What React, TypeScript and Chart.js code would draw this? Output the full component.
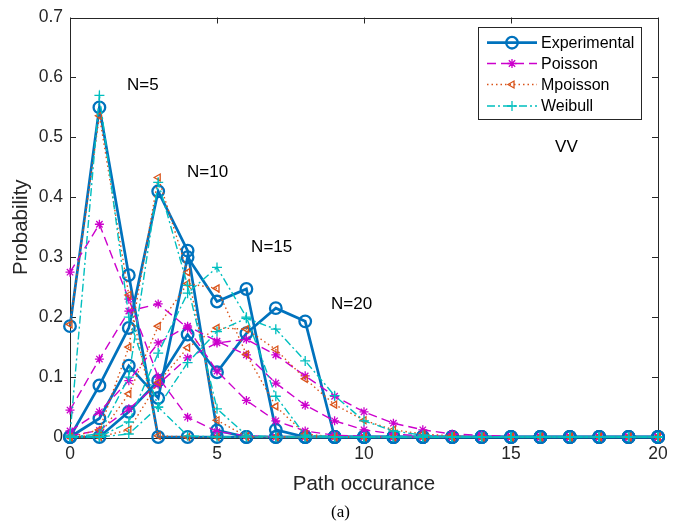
import React, { useEffect, useRef } from "react";
import { Chart, registerables } from "chart.js";

Chart.register(...registerables);

const xs = [0, 1, 2, 3, 4, 5, 6, 7, 8, 9, 10, 11, 12, 13, 14, 15, 16, 17, 18, 19, 20];

// Experimental
const expN5 = [0.185, 0.55, 0.27, 0, 0, 0, 0, 0, 0, 0, 0, 0, 0, 0, 0, 0, 0, 0, 0, 0, 0];
const expN10 = [0, 0.086, 0.182, 0.41, 0.311, 0.011, 0, 0, 0, 0, 0, 0, 0, 0, 0, 0, 0, 0, 0, 0, 0];
const expN15 = [0, 0.031, 0.119, 0.065, 0.3, 0.226, 0.247, 0.012, 0, 0, 0, 0, 0, 0, 0, 0, 0, 0, 0, 0, 0];
const expN20 = [0, 0, 0.042, 0.094, 0.171, 0.108, 0.173, 0.215, 0.193, 0, 0, 0, 0, 0, 0, 0, 0, 0, 0, 0, 0];

// Poisson
const poiN5 = [0.275, 0.355, 0.23, 0.1, 0.033, 0.009, 0.002, 0, 0, 0, 0, 0, 0, 0, 0, 0, 0, 0, 0, 0, 0];
const poiN10 = [0.045, 0.13, 0.21, 0.222, 0.182, 0.11, 0.061, 0.027, 0.01, 0.003, 0.001, 0, 0, 0, 0, 0, 0, 0, 0, 0, 0];
const poiN15 = [0.01, 0.042, 0.094, 0.157, 0.185, 0.16, 0.137, 0.09, 0.053, 0.027, 0.012, 0.005, 0.002, 0, 0, 0, 0, 0, 0, 0, 0];
const poiN20 = [0.002, 0.011, 0.047, 0.088, 0.132, 0.157, 0.163, 0.137, 0.102, 0.068, 0.042, 0.023, 0.012, 0.005, 0.003, 0.001, 0, 0, 0, 0, 0];

// Mpoisson
const mpoN5 = [0.188, 0.536, 0.237, 0.002, 0, 0, 0, 0, 0, 0, 0, 0, 0, 0, 0, 0, 0, 0, 0, 0, 0];
const mpoN10 = [0, 0.012, 0.15, 0.433, 0.275, 0.028, 0.001, 0, 0, 0, 0, 0, 0, 0, 0, 0, 0, 0, 0, 0, 0];
const mpoN15 = [0, 0.003, 0.072, 0.185, 0.256, 0.248, 0.138, 0.051, 0.005, 0, 0, 0, 0, 0, 0, 0, 0, 0, 0, 0, 0];
const mpoN20 = [0, 0, 0.012, 0.091, 0.149, 0.182, 0.18, 0.146, 0.097, 0.054, 0.028, 0.012, 0.005, 0.002, 0, 0, 0, 0, 0, 0, 0];

// Weibull
const weiN5 = [0.003, 0.57, 0.2, 0.05, 0.002, 0, 0, 0, 0, 0, 0, 0, 0, 0, 0, 0, 0, 0, 0, 0, 0];
const weiN10 = [0, 0.005, 0.1, 0.425, 0.253, 0.047, 0.003, 0, 0, 0, 0, 0, 0, 0, 0, 0, 0, 0, 0, 0, 0];
const weiN15 = [0, 0, 0.025, 0.14, 0.24, 0.283, 0.2, 0.068, 0.003, 0, 0, 0, 0, 0, 0, 0, 0, 0, 0, 0, 0];
const weiN20 = [0, 0, 0.005, 0.05, 0.124, 0.176, 0.198, 0.18, 0.127, 0.069, 0.027, 0.01, 0.003, 0, 0, 0, 0, 0, 0, 0, 0];

const seriesNames = ["Experimental", "Poisson", "Mpoisson", "Weibull"];
const xTicks = [0, 5, 10, 15, 20];
const yTicks = [0, 0.1, 0.2, 0.3, 0.4, 0.5, 0.6, 0.7];
const annotations = [
  { text: "N=5", x: 1.94, y: 0.587 },
  { text: "N=10", x: 3.98, y: 0.441 },
  { text: "N=15", x: 6.16, y: 0.316 },
  { text: "N=20", x: 8.88, y: 0.222 },
  { text: "VV", x: 16.5, y: 0.484 },
];

const AX = "#262626";
const FONT = "'Liberation Sans', Arial, sans-serif";
const C_EXP = "#0072BD";
const C_POI = "#CC00CC";
const C_MPO = "#D95319";
const C_WEI = "#00BFBF";

const styles: any = {
  Experimental: { color: C_EXP, width: 2.7, dash: [], point: "circle", radius: 5.8, pw: 2.3, rot: 0, order: 4 },
  Poisson: { color: C_POI, width: 1.4, dash: [9, 5], point: "star", radius: 4.5, pw: 1.3, rot: 0, order: 3 },
  Mpoisson: { color: C_MPO, width: 1.4, dash: [1.5, 3], point: "triangle", radius: 4, pw: 1.3, rot: -90, order: 2 },
  Weibull: { color: C_WEI, width: 1.4, dash: [8, 3, 2, 3], point: "cross", radius: 5, pw: 1.3, rot: 0, order: 1 },
};

function makeDs(name: string, vals: number[]) {
  const s = styles[name];
  return {
    label: name,
    data: xs.map((x, i) => ({ x, y: vals[i] })),
    borderColor: s.color,
    borderWidth: s.width,
    borderDash: s.dash,
    pointStyle: s.point,
    pointRadius: s.radius,
    pointBorderWidth: s.pw,
    pointBorderColor: s.color,
    pointBackgroundColor: "rgba(0,0,0,0)",
    pointRotation: s.rot,
    tension: 0,
    clip: false,
    order: s.order,
  };
}

function drawMarker(ctx: CanvasRenderingContext2D, style: string, x: number, y: number, r: number) {
  ctx.beginPath();
  if (style === "circle") {
    ctx.arc(x, y, r, 0, Math.PI * 2);
    ctx.stroke();
  } else if (style === "cross") {
    ctx.moveTo(x - r, y); ctx.lineTo(x + r, y);
    ctx.moveTo(x, y - r); ctx.lineTo(x, y + r);
    ctx.stroke();
  } else if (style === "star") {
    ctx.moveTo(x - r, y); ctx.lineTo(x + r, y);
    ctx.moveTo(x, y - r); ctx.lineTo(x, y + r);
    const d = r * 0.7071;
    ctx.moveTo(x - d, y - d); ctx.lineTo(x + d, y + d);
    ctx.moveTo(x - d, y + d); ctx.lineTo(x + d, y - d);
    ctx.stroke();
  } else if (style === "triangle") {
    ctx.moveTo(x - r, y);
    ctx.lineTo(x + r * 0.5, y - r * 0.866);
    ctx.lineTo(x + r * 0.5, y + r * 0.866);
    ctx.closePath();
    ctx.stroke();
  }
}

const framePlugin = {
  id: "frame",
  beforeDatasetsDraw(chart: any) {
    const { ctx, chartArea: a, scales } = chart;
    ctx.save();
    ctx.strokeStyle = AX;
    ctx.lineWidth = 1;
    ctx.strokeRect(Math.round(a.left) + 0.5, Math.round(a.top) + 0.5, Math.round(a.right - a.left), Math.round(a.bottom - a.top));
    const tl = 6;
    ctx.beginPath();
    xTicks.forEach((t) => {
      const px = Math.round(scales.x.getPixelForValue(t)) + 0.5;
      ctx.moveTo(px, a.bottom); ctx.lineTo(px, a.bottom - tl);
      ctx.moveTo(px, a.top); ctx.lineTo(px, a.top + tl);
    });
    yTicks.forEach((t) => {
      const py = Math.round(scales.y.getPixelForValue(t)) + 0.5;
      ctx.moveTo(a.left, py); ctx.lineTo(a.left + tl, py);
      ctx.moveTo(a.right, py); ctx.lineTo(a.right - tl, py);
    });
    ctx.stroke();
    ctx.restore();
  },
  afterDatasetsDraw(chart: any) {
    const { ctx, scales } = chart;
    ctx.save();
    ctx.fillStyle = "#000";
    ctx.font = `17px ${FONT}`;
    ctx.textAlign = "left";
    ctx.textBaseline = "middle";
    annotations.forEach((an) => {
      ctx.fillText(an.text, scales.x.getPixelForValue(an.x), scales.y.getPixelForValue(an.y));
    });
    const bx = 478.5, by = 27.5, bw = 163, bh = 92;
    ctx.fillStyle = "#fff";
    ctx.fillRect(bx, by, bw, bh);
    ctx.strokeStyle = AX;
    ctx.lineWidth = 1;
    ctx.setLineDash([]);
    ctx.strokeRect(bx, by, bw, bh);
    const rows = [42.7, 63.5, 84.5, 106];
    seriesNames.forEach((name, i) => {
      const s = styles[name];
      const y = rows[i];
      ctx.strokeStyle = s.color;
      ctx.lineWidth = s.width;
      ctx.setLineDash(s.dash);
      ctx.beginPath();
      ctx.moveTo(487, y);
      ctx.lineTo(537, y);
      ctx.stroke();
      ctx.setLineDash([]);
      ctx.lineWidth = s.pw;
      drawMarker(ctx, s.point, 512, y, s.radius);
      ctx.fillStyle = "#000";
      ctx.font = `16px ${FONT}`;
      ctx.textAlign = "left";
      ctx.textBaseline = "middle";
      ctx.fillText(name, 541, y + 1);
    });
    ctx.restore();
  },
};

export default function App() {
  const ref = useRef<HTMLCanvasElement | null>(null);
  useEffect(() => {
    const canvas = ref.current;
    if (!canvas) return;
    const datasets = [
      makeDs("Experimental", expN5),
      makeDs("Experimental", expN10),
      makeDs("Experimental", expN15),
      makeDs("Experimental", expN20),
      makeDs("Poisson", poiN5),
      makeDs("Poisson", poiN10),
      makeDs("Poisson", poiN15),
      makeDs("Poisson", poiN20),
      makeDs("Mpoisson", mpoN5),
      makeDs("Mpoisson", mpoN10),
      makeDs("Mpoisson", mpoN15),
      makeDs("Mpoisson", mpoN20),
      makeDs("Weibull", weiN5),
      makeDs("Weibull", weiN10),
      makeDs("Weibull", weiN15),
      makeDs("Weibull", weiN20),
    ];
    const chart = new Chart(canvas, {
      type: "line",
      data: { datasets },
      plugins: [framePlugin],
      options: {
        animation: false,
        responsive: false,
        maintainAspectRatio: false,
        events: [],
        layout: { padding: { top: 12, right: 23, left: 0, bottom: 0 } },
        plugins: { legend: { display: false }, tooltip: { enabled: false } },
        scales: {
          x: {
            type: "linear",
            min: 0,
            max: 20,
            afterBuildTicks: (s: any) => { s.ticks = xTicks.map((v) => ({ value: v })); },
            afterFit: (s: any) => { s.height = 90; },
            grid: { display: false, drawTicks: false },
            border: { display: false },
            ticks: { color: AX, padding: 7, font: { family: FONT, size: 17.5 }, maxRotation: 0 },
            title: { display: true, text: "Path occurance", color: AX, font: { family: FONT, size: 20.5 }, padding: { top: 0, bottom: 30.5 } },
          },
          y: {
            type: "linear",
            min: 0,
            max: 0.7,
            afterBuildTicks: (s: any) => { s.ticks = yTicks.map((v) => ({ value: v })); },
            afterFit: (s: any) => { s.width = 70; },
            grid: { display: false, drawTicks: false },
            border: { display: false },
            ticks: { color: AX, padding: 7, font: { family: FONT, size: 17.5 }, callback: (v: any) => String(Number(Number(v).toFixed(1))) },
            title: { display: true, text: "Probability", color: AX, font: { family: FONT, size: 20.5 }, padding: { top: 9.5, bottom: 0 } },
          },
        },
      } as any,
    });
    return () => chart.destroy();
  }, []);
  return (
    <div style={{ position: "absolute", left: 0, top: 0, width: 681, height: 527, background: "#fff" }}>
      <canvas ref={ref} width={681} height={527} style={{ width: 681, height: 527, display: "block" }} />
      <div style={{ position: "absolute", left: 0, width: 681, top: 502, textAlign: "center", fontFamily: "'Liberation Serif', 'Times New Roman', serif", fontSize: 17, color: "#000", lineHeight: "20px" }}>(a)</div>
    </div>
  );
}
